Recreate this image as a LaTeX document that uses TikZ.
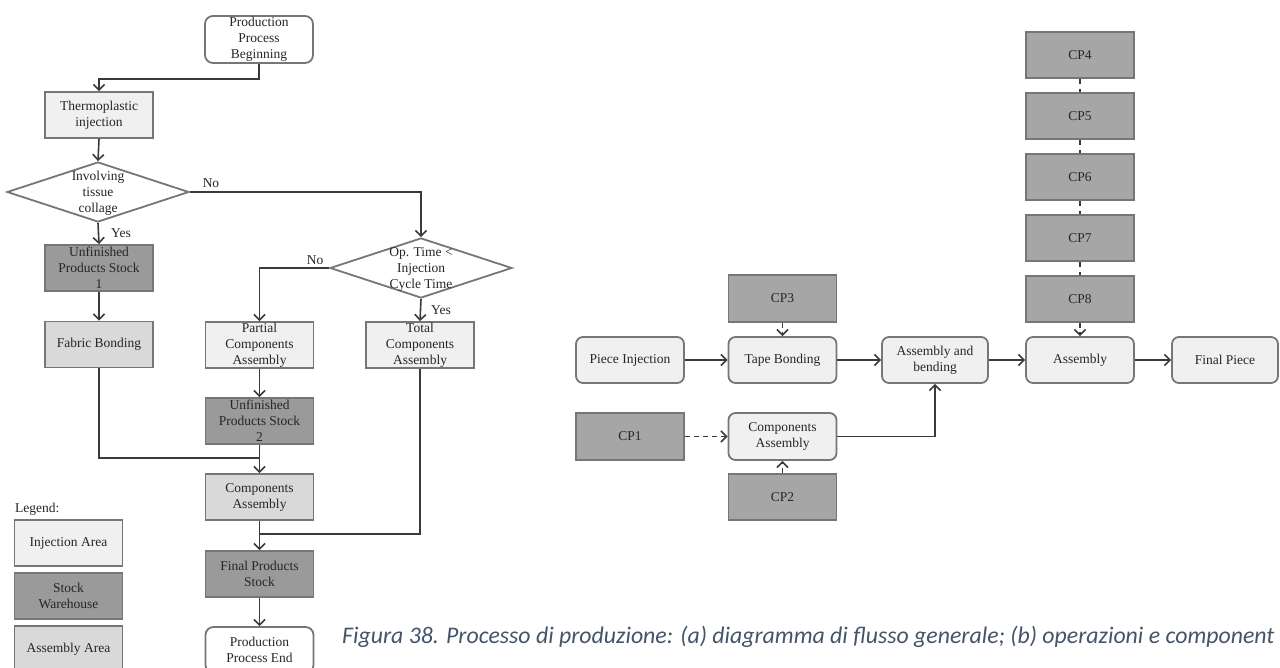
\documentclass[tikz,border=0pt]{standalone}
\usepackage{fontspec}
\setmainfont{Liberation Serif}
\newfontfamily\capfont{Carlito}
\usetikzlibrary{arrows.meta,shapes.geometric}
\definecolor{bordergray}{HTML}{767676}
\definecolor{linegray}{HTML}{3A3A3A}
\definecolor{injfill}{HTML}{F0F0F0}
\definecolor{stockfill}{HTML}{9A9A9A}
\definecolor{cpfill}{HTML}{A6A6A6}
\definecolor{asmfill}{HTML}{D9D9D9}
\definecolor{capblue}{HTML}{44546A}
\begin{document}
\begin{tikzpicture}[x=1pt,y=-1pt,
  font=\fontsize{13.5}{16}\selectfont,
  box/.style={draw=bordergray, line width=1.8pt, minimum width=108pt,
    minimum height=46pt, inner sep=0pt, align=center, text=black!85},
  injbox/.style={box, fill=injfill},
  stockbox/.style={box, fill=stockfill},
  asmbox/.style={box, fill=asmfill},
  terminal/.style={box, fill=white, rounded corners=8pt},
  opbox/.style={box, fill=injfill, rounded corners=7pt},
  cpbox/.style={box, fill=cpfill},
  decision/.style={draw=bordergray, line width=1.8pt, shape=diamond,
    minimum width=182pt, minimum height=60pt, inner sep=0pt, fill=white},
  arr/.style={draw=linegray, line width=1.6pt,
    -{Straight Barb[length=5.5pt,width=11pt]}},
  plain/.style={draw=linegray, line width=1.6pt},
  dasharr/.style={arr, dash pattern=on 5pt off 4pt},
  dashline/.style={plain, dash pattern=on 5pt off 5pt},
  lbl/.style={inner sep=0pt, text=black!85}
]
\useasboundingbox (0,0) rectangle (1280,668);

% ---------- general flow chart ----------
\node[terminal, minimum height=47pt] (start) at (259,39.5) {Production\\Process\\Beginning};
\node[injbox] (thermo) at (99,115) {Thermoplastic\\injection};
\node[decision] (d1) at (98,192) {};
\node[lbl, align=center] (d1t) at (98,193) {Involving\\tissue\\collage};
\node[stockbox] (u1) at (99,268) {Unfinished\\Products Stock\\1};
\node[asmbox] (fab) at (99,344.5) {Fabric Bonding};
\node[decision] (d2) at (421,268) {};
\node[lbl, align=center] (d2t) at (421,269) {Op. Time <\\Injection\\Cycle Time};
\node[injbox] (partial) at (259.5,345) {Partial\\Components\\Assembly};
\node[injbox] (total) at (420,345) {Total\\Components\\Assembly};
\node[stockbox] (u2) at (259.5,421) {Unfinished\\Products Stock\\2};
\node[asmbox] (comp) at (259.5,497) {Components\\Assembly};
\node[stockbox] (final) at (259.5,574) {Final Products\\Stock};
\node[terminal] (endb) at (259.5,650) {Production\\Process End};

\coordinate (m1) at (259.5,458);
\coordinate (m2) at (259.5,534);

\draw[arr] (start.south) -- ++(0,15) -| (thermo.north);
\draw[arr] (thermo.south) -- (d1.north);
\draw[arr] (d1.east) -| (d2.north);
\draw[arr] (d1.south) -- (u1.north);
\draw[arr] (u1.south) -- (fab.north);
\draw[arr] (d2.west) -| (partial.north);
\draw[arr] (d2.south) -- (total.north);
\draw[arr] (partial.south) -- (u2.north);
\draw[plain] (fab.south) |- (m1);
\draw[arr] (u2.south) -- (comp.north);
\draw[plain] (total.south) |- (m2);
\draw[arr] (comp.south) -- (final.north);
\draw[arr] (final.south) -- (endb.north);

\node[lbl] (no1) at (211,183) {No};
\node[lbl] (yes1) at (121,233) {Yes};
\node[lbl] (no2) at (315,260) {No};
\node[lbl] (yes2) at (441,310) {Yes};

% legend
\node[lbl, anchor=base west] (legend) at (15,512) {Legend:};
\node[injbox] (leginj) at (68.5,543) {Injection Area};
\node[stockbox] (legstock) at (68.5,596) {Stock\\Warehouse};
\node[asmbox] (legasm) at (68.5,649) {Assembly Area};

% ---------- operations and components ----------
\node[opbox] (pinj) at (630,360) {Piece Injection};
\node[opbox] (tape) at (782.5,360) {Tape Bonding};
\node[opbox, minimum width=106pt] (ab) at (935,360) {Assembly and\\bending};
\node[opbox] (asm) at (1080,360) {Assembly};
\node[opbox, minimum width=106pt] (fp) at (1225,360) {Final Piece};
\node[opbox, minimum height=47pt] (cassy) at (782.5,436.5) {Components\\Assembly};

\node[cpbox, minimum height=47pt] (cp3) at (782.5,298.5) {CP3};
\node[cpbox, minimum height=47pt] (cp1) at (630,436.5) {CP1};
\node[cpbox] (cp2) at (782.5,497) {CP2};
\node[cpbox] (cp4) at (1080,55) {CP4};
\node[cpbox] (cp5) at (1080,116) {CP5};
\node[cpbox] (cp6) at (1080,177) {CP6};
\node[cpbox] (cp7) at (1080,238) {CP7};
\node[cpbox] (cp8) at (1080,299) {CP8};

\draw[arr] (pinj.east) -- (tape.west);
\draw[arr] (tape.east) -- (ab.west);
\draw[arr] (ab.east) -- (asm.west);
\draw[arr] (asm.east) -- (fp.west);
\draw[arr] (cassy.east) -| (ab.south);
\draw[dasharr] (cp3.south) -- (tape.north);
\draw[dasharr] (cp1.east) -- (cassy.west);
\draw[dasharr] (cp2.north) -- (cassy.south);
\draw[dashline] (cp4.south) -- (cp5.north);
\draw[dashline] (cp5.south) -- (cp6.north);
\draw[dashline] (cp6.south) -- (cp7.north);
\draw[dashline] (cp7.south) -- (cp8.north);
\draw[dasharr] (cp8.south) -- (asm.north);

% caption
\node[anchor=base west, inner sep=0pt, text=capblue,
  font=\capfont\itshape\fontsize{23.8}{28}\selectfont] (caption) at (342,643)
  {Figura 38. Processo di produzione: (a) diagramma di flusso generale; (b) operazioni e component};
\end{tikzpicture}
\end{document}
